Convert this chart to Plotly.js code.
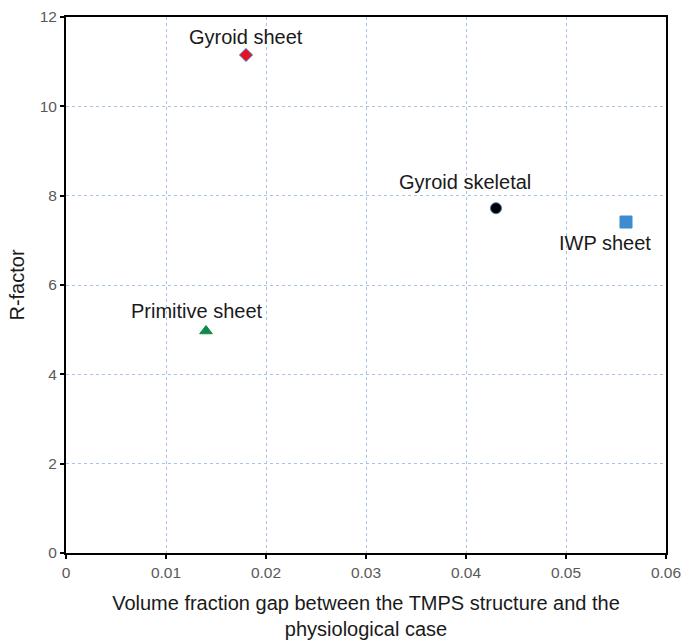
<!DOCTYPE html>
<html>
<head>
<meta charset="utf-8">
<script src="https://cdn.plot.ly/plotly-3.0.1.min.js"></script>
<style>html,body{margin:0;padding:0;background:#fff;}#chart{width:681px;height:640px;}</style>
</head>
<body>
<div id="chart"></div>
<script>
const names = ["Gyroid sheet", "Gyroid skeletal", "IWP sheet", "Primitive sheet"];
const xValues = [0.018, 0.043, 0.056, 0.014];
const yValues = [11.15, 7.72, 7.41, 4.97];
const symbols = ["diamond", "circle", "square", "triangle-up"];
const fillColors = ["#e8121f", "#000000", "#3d8ccf", "#0f8a4c"];
const lineColors = ["#3d6fc4", "#3d6fc4", "#3d8ccf", "#0f8a4c"];
const sizes = [10, 11, 12, 11];
const xTickVals = [0, 0.01, 0.02, 0.03, 0.04, 0.05, 0.06];
const xTickText = ["0", "0.01", "0.02", "0.03", "0.04", "0.05", "0.06"];
const labelShiftX = [0, -31, -21, -9];
const labelShiftY = [18, 26, -21, 20];

const traces = names.map((n, i) => ({
  x: [xValues[i]], y: [yValues[i]], name: n, type: 'scatter', mode: 'markers',
  marker: {symbol: symbols[i], color: fillColors[i], size: sizes[i],
           line: {color: lineColors[i], width: 1}},
  showlegend: false, hoverinfo: 'x+y+name'
}));

const annotations = names.map((n, i) => ({
  x: xValues[i], y: yValues[i], text: n, showarrow: false,
  xshift: labelShiftX[i], yshift: labelShiftY[i],
  font: {family: 'Liberation Sans, Arial, sans-serif', size: 20, color: '#1a1a1a'}
}));

const gridColor = '#a9c3e6';
const layout = {
  width: 681, height: 640,
  margin: {l: 66, r: 15, t: 17, b: 87},
  paper_bgcolor: '#fff', plot_bgcolor: '#fff',
  font: {family: 'Liberation Sans, Arial, sans-serif'},
  xaxis: {
    range: [0, 0.0600001],
    tickvals: xTickVals,
    ticktext: xTickText,
    ticklabeloverflow: 'allow',
    showgrid: true, gridcolor: gridColor, griddash: 'dot', gridwidth: 1,
    zeroline: false, showline: true, linecolor: '#000', linewidth: 2, mirror: true,
    ticks: 'outside', ticklen: 4, tickwidth: 2, tickcolor: '#000',
    tickfont: {size: 15.5, color: '#595959'},
    title: {text: 'Volume fraction gap between the TMPS structure and the<br>physiological case',
            font: {size: 20, color: '#1a1a1a'}, standoff: 16}
  },
  yaxis: {
    range: [0, 12], dtick: 2, tick0: 0,
    showgrid: true, gridcolor: gridColor, griddash: 'dot', gridwidth: 1,
    zeroline: false, showline: true, linecolor: '#000', linewidth: 2, mirror: true,
    ticks: 'outside', ticklen: 4, tickwidth: 2, tickcolor: '#000',
    tickfont: {size: 15.5, color: '#595959'},
    title: {text: 'R-factor', font: {size: 20, color: '#1a1a1a'}, standoff: 10}
  },
  annotations: annotations
};

Plotly.newPlot('chart', traces, layout, {displayModeBar: false, staticPlot: true});
</script>
</body>
</html>
